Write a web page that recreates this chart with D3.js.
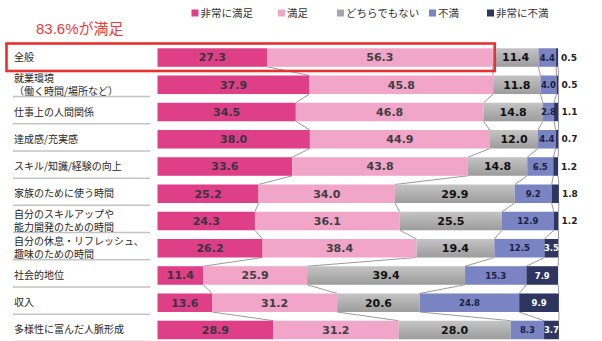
<!DOCTYPE html>
<html><head><meta charset="utf-8">
<script src="https://cdn.jsdelivr.net/npm/d3@7"></script>
<style>
html,body{margin:0;padding:0;background:#fff;}
svg{display:block;font-family:"Noto Sans CJK JP","Noto Sans",sans-serif;}
</style></head>
<body><svg id="c" width="602" height="341"></svg>
<script>
const categories = [
  ["全般"],
  ["就業環境","（働く時間/場所など）"],
  ["仕事上の人間関係"],
  ["達成感/充実感"],
  ["スキル/知識/経験の向上"],
  ["家族のために使う時間"],
  ["自分のスキルアップや","能力開発のための時間"],
  ["自分の休息・リフレッシュ、","趣味のための時間"],
  ["社会的地位"],
  ["収入"],
  ["多様性に富んだ人脈形成"]
];
const seriesNames = ["非常に満足","満足","どちらでもない","不満","非常に不満"];
const verySatisfied   = [27.3,37.9,34.5,38.0,33.6,25.2,24.3,26.2,11.4,13.6,28.9];
const satisfied       = [56.3,45.8,46.8,44.9,43.8,34.0,36.1,38.4,25.9,31.2,31.2];
const neutral         = [11.4,11.8,14.8,12.0,14.8,29.9,25.5,19.4,39.4,20.6,28.0];
const dissatisfied    = [4.4,4.0,2.8,4.4,6.5,9.2,12.9,12.5,15.3,24.8,8.3];
const veryDissatisfied= [0.5,0.5,1.1,0.7,1.2,1.8,1.2,3.5,7.9,9.9,3.7];
const headline = "83.6%が満足";

const colors = ["#DF3F86","#F1A5C9","url(#grayGrad)","#7A84C2","#2E355F"];
const legendColors = ["#DF3F86","#F1A5C9","#A6A6A6","#7A84C2","#2E355F"];
const labelColors = ["#3b3340","#3f3f3f","#111111","#1b1d40","#ffffff"];
const labelSizes = [11,11,11,8.5,8.5];

const svg = d3.select("#c");
const defs = svg.append("defs");
const g1 = defs.append("linearGradient").attr("id","grayGrad").attr("x1",0).attr("y1",0).attr("x2",0).attr("y2",1);
g1.append("stop").attr("offset","0%").attr("stop-color","#C4C4C4");
g1.append("stop").attr("offset","100%").attr("stop-color","#9C9C9C");

const seriesData = [verySatisfied,satisfied,neutral,dissatisfied,veryDissatisfied];
const idx = categories.map((c,i)=>i);
const rows = idx.map(i=>{
  const o = {i};
  seriesNames.forEach((s,k)=>o[s]=seriesData[k][i]);
  return o;
});
const stacked = d3.stack().keys(seriesNames)(rows);

const x = d3.scaleLinear().domain([0,100]).range([157.5,558.5]);
const y = d3.scaleBand().domain(idx).range([43.9,343.6]).paddingInner(0.32).paddingOuter(0.16);
const bw = y.bandwidth();
const boundary = i => y(i)+bw+y.step()*0.16;

// left separators
svg.append("g").selectAll("line").data(idx.slice(1)).join("line")
  .attr("x1",13).attr("x2",150)
  .attr("y1",d=>boundary(d)-2).attr("y2",d=>boundary(d)-2)
  .attr("stroke","#C3C3C3").attr("stroke-width",1.5);

// category labels
const lab = svg.append("g").selectAll("text").data(idx).join("text")
  .attr("x",14).attr("font-size",10).attr("fill","#262626");
lab.each(function(i){
  const lines = categories[i];
  const t = d3.select(this);
  const cy = y(i)+bw/2;
  const lh = 12.5;
  lines.forEach((l,j)=>{
    t.append("tspan").attr("x",14)
     .attr("y",cy + (j-(lines.length-1)/2)*lh)
     .attr("dy","0.35em").text(l);
  });
});

// connector lines
const conn = svg.append("g");
for(let i=0;i<idx.length-1;i++){
  stacked.forEach(s=>{
    conn.append("line")
      .attr("x1",x(s[i][1])).attr("y1",y(i)+bw)
      .attr("x2",x(s[i+1][1])).attr("y2",y(i+1))
      .attr("stroke","#808080").attr("stroke-width",0.8);
  });
}

// bars
const layers = svg.append("g").selectAll("g").data(stacked).join("g")
  .attr("fill",(d,k)=>colors[k]);
layers.selectAll("rect").data(d=>d).join("rect")
  .attr("x",d=>x(d[0])).attr("width",d=>x(d[1])-x(d[0]))
  .attr("y",(d,i)=>y(i)).attr("height",bw);

// value labels
stacked.forEach((s,k)=>{
  svg.append("g").selectAll("text").data(s).join("text")
    .attr("font-family","'DejaVu Sans',Verdana,sans-serif")
    .attr("font-weight","bold")
    .attr("font-size",d=>{const v=d[1]-d[0]; return v<2?9:labelSizes[k];})
    .attr("fill",d=>{const v=d[1]-d[0]; return v<2?"#222":labelColors[k];})
    .attr("text-anchor",d=>(d[1]-d[0])<2?"start":"middle")
    .attr("x",d=>(d[1]-d[0])<2 ? x(d[1])+3 : (x(d[0])+x(d[1]))/2)
    .attr("y",(d,i)=>y(i)+bw/2).attr("dy","0.36em")
    .text(d=>(d[1]-d[0]).toFixed(1));
});

// legend
const legX = [191.5,278,337,429,487];
const leg = svg.append("g").selectAll("g").data(seriesNames).join("g")
  .attr("transform",(d,k)=>`translate(${legX[k]},13)`);
leg.append("rect").attr("x",0).attr("y",-3.5).attr("width",7).attr("height",7)
  .attr("fill",(d,k)=>legendColors[k]);
leg.append("text").attr("x",9).attr("dy","0.35em").attr("font-size",10.5)
  .attr("fill","#333").text(d=>d);

// headline & highlight
svg.append("text").attr("x",36).attr("y",34).attr("font-size",15)
  .attr("font-family","'Liberation Sans','Noto Sans CJK JP',sans-serif")
  .attr("fill","#EE3A3A").text(headline);
svg.append("rect").attr("x",6.5).attr("y",43.5)
  .attr("width",x(verySatisfied[0]+satisfied[0])+2-6.5).attr("height",27.5)
  .attr("fill","none").attr("stroke","#E8302E").attr("stroke-width",2.6);
</script></body></html>
